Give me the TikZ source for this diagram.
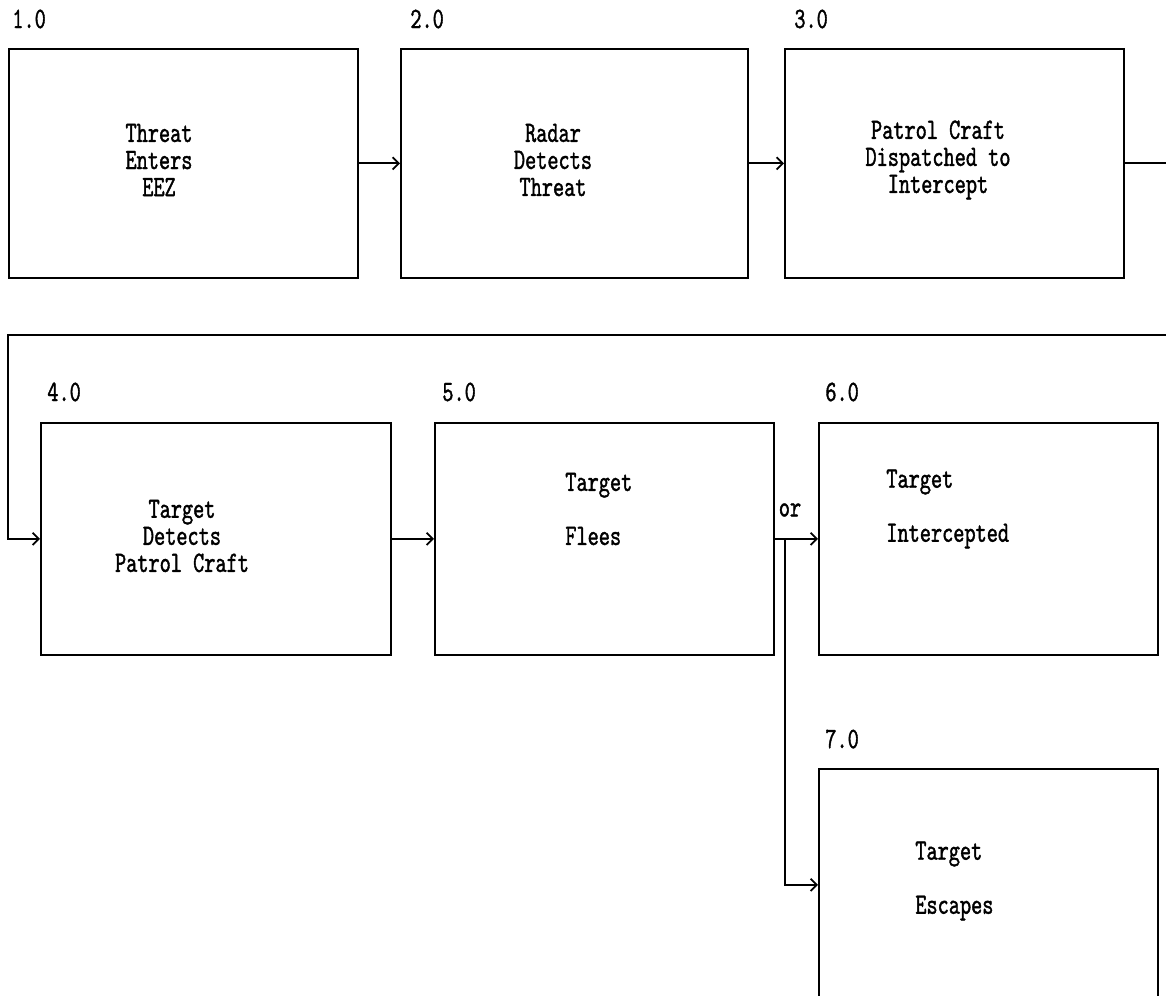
\documentclass[tikz,border=0pt]{standalone}
\usepackage{fontspec}
\usetikzlibrary{arrows.meta}
\newfontfamily\boxfont{lmmono10-regular.otf}[FakeStretch=0.72,FakeBold=1.3]
\tikzset{
  procbox/.style={draw, line width=1pt, anchor=north west, inner sep=0pt,
    minimum width=6.78cm, minimum height=4.64cm},
  boxtext/.style={font=\boxfont\fontsize{16.8}{15.4}\selectfont, align=center, inner sep=0pt},
  sidetext/.style={boxtext, align=left, anchor=west},
  numtext/.style={font=\boxfont\fontsize{16.8}{15.4}\selectfont, anchor=west, inner sep=0pt},
  flow/.style={line width=1pt, -{Straight Barb[length=3.5pt,width=7pt]}},
}
\begin{document}
\begin{tikzpicture}[x=0.02cm, y=-0.02cm]
\useasboundingbox (0,0) rectangle (1166,996);
\clip (0,0) rectangle (1166,996);
% first row
\node[procbox, minimum width=6.98cm, minimum height=4.58cm] (b1) at (8,48) {};
\node[procbox, minimum width=6.94cm, minimum height=4.58cm] (b2) at (400,48) {};
\node[procbox, minimum height=4.58cm] (b3) at (784,48) {};
\node[numtext] (n1) at (12,19) {1.0};
\node[numtext] (n2) at (410,19) {2.0};
\node[numtext] (n3) at (794,19) {3.0};
\node[boxtext] (t1) at (159,160) {Threat\\Enters\\EEZ};
\node[boxtext] (t2) at (553,160) {Radar\\Detects\\Threat};
\node[boxtext] (t3) at (938,160) {Patrol Craft\\Dispatched to\\Intercept};
% second row
\node[procbox, minimum width=7cm] (b4) at (40,422) {};
\node[procbox] (b5) at (434,422) {};
\node[procbox] (b6) at (818,422) {};
\node[procbox] (b7) at (818,768) {};
\node[numtext] (n4) at (47,392) {4.0};
\node[numtext] (n5) at (442,392) {5.0};
\node[numtext] (n6) at (825,392) {6.0};
\node[numtext] (n7) at (825,739) {7.0};
\node[boxtext] (t4) at (182,536) {Target\\Detects\\Patrol Craft};
\node[sidetext] (t5) at (565,509) {Target\\[0.54cm]Flees};
\node[sidetext] (t6) at (886,509) {Target\\[0.54cm]Intercepted};
\node[sidetext] (t7) at (915,881) {Target\\[0.54cm]Escapes};
\node[boxtext] (or) at (790,510) {or};
% connectors
\coordinate (wrapR) at (1190,335);
\coordinate (wrapL) at (8,335);
\coordinate (split) at (785,538);
\draw[flow] (b1.east) -- (b2.west);
\draw[flow] (b2.east) -- (b3.west);
\draw[flow] (b3.east) -| (wrapR) -- (wrapL) |- (b4.west);
\draw[flow] (b4.east) -- (b5.west);
\draw[flow] (b5.east) -- (b6.west);
\draw[flow] (split) |- (b7.west);
\end{tikzpicture}
\end{document}
